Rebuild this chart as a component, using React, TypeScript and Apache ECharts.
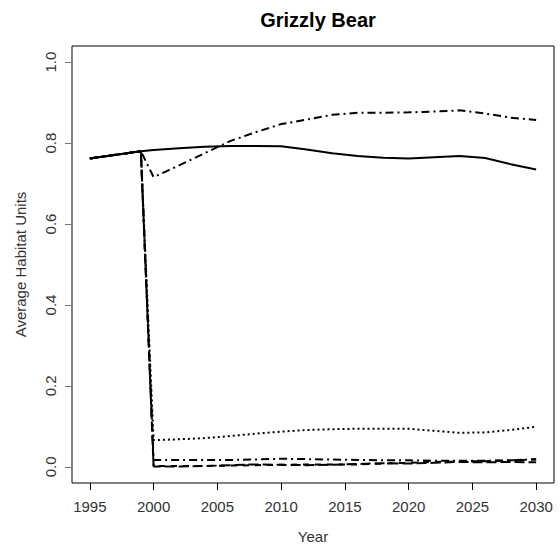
import React, { useEffect, useRef } from "react";
import * as echarts from "echarts";

const years = [1995, 1999, 2000, 2002, 2004, 2006, 2008, 2010, 2012, 2014, 2016, 2018, 2020, 2022, 2024, 2026, 2028, 2030];
const solidVals = [0.762, 0.78, 0.783, 0.787, 0.791, 0.793, 0.793, 0.792, 0.784, 0.775, 0.768, 0.764, 0.762, 0.765, 0.768, 0.763, 0.748, 0.735];
const upperDotDashVals = [0.762, 0.78, 0.716, 0.745, 0.775, 0.805, 0.827, 0.847, 0.858, 0.87, 0.875, 0.875, 0.876, 0.878, 0.881, 0.873, 0.863, 0.857];
const dottedVals = [0.762, 0.78, 0.066, 0.068, 0.071, 0.076, 0.082, 0.087, 0.091, 0.093, 0.094, 0.094, 0.094, 0.089, 0.084, 0.085, 0.091, 0.099];
const lowerDotDashVals = [0.762, 0.78, 0.017, 0.017, 0.017, 0.017, 0.018, 0.02, 0.019, 0.018, 0.017, 0.016, 0.016, 0.015, 0.015, 0.015, 0.016, 0.019];
const dashedVals = [0.762, 0.78, 0.002, 0.002, 0.002, 0.003, 0.004, 0.005, 0.006, 0.006, 0.006, 0.008, 0.01, 0.012, 0.013, 0.014, 0.016, 0.018];
const longDashVals = [0.762, 0.78, 0.001, 0.001, 0.002, 0.004, 0.006, 0.005, 0.004, 0.005, 0.007, 0.009, 0.008, 0.01, 0.012, 0.011, 0.012, 0.011];

const xTicks = [1995, 2000, 2005, 2010, 2015, 2020, 2025, 2030];
const yTicks = [0, 0.2, 0.4, 0.6, 0.8, 1.0];

const FONT = "Liberation Sans, Arial, sans-serif";

function pairs(vals: number[]) {
  return years.map((y, i) => [y, vals[i]]);
}

export default function App() {
  const ref = useRef<HTMLDivElement>(null);
  useEffect(() => {
    if (!ref.current) return;
    const chart = echarts.init(ref.current, null, { renderer: "svg" });
    const mk = (name: string, vals: number[], type: any, z = 2) => ({
      name,
      type: "line",
      data: pairs(vals),
      symbol: "none",
      z,
      lineStyle: { color: "#000", width: 2, type, cap: "butt" },
    });
    chart.setOption({
      animation: false,
      backgroundColor: "#fff",
      title: {
        text: "Grizzly Bear",
        left: 313,
        top: 5,
        textAlign: "center",
        textStyle: { fontFamily: FONT, fontSize: 20, fontWeight: "bold", color: "#000" },
      },
      grid: {
        left: 72,
        top: 46,
        right: 6,
        bottom: 67,
        show: true,
        borderColor: "#000",
        borderWidth: 1,
        containLabel: false,
        outerBoundsMode: "none",
      },
      xAxis: {
        type: "value",
        min: 1993.6,
        max: 2031.4,
        name: "Year",
        nameLocation: "middle",
        nameGap: 46,
        nameTextStyle: { fontFamily: FONT, fontSize: 15, color: "#333" },
        axisLine: { show: false, onZero: false },
        splitLine: { show: false },
        axisTick: { show: true, length: 7, customValues: xTicks, lineStyle: { color: "#000" } },
        axisLabel: {
          customValues: xTicks,
          fontFamily: FONT,
          fontSize: 15,
          color: "#333",
          margin: 16,
          formatter: (v: number) => String(v),
        },
      },
      yAxis: {
        type: "value",
        min: -0.04,
        max: 1.04,
        name: "Average Habitat Units",
        nameLocation: "middle",
        nameGap: 44,
        nameTextStyle: { fontFamily: FONT, fontSize: 15, color: "#333" },
        axisLine: { show: false, onZero: false },
        splitLine: { show: false },
        axisTick: { show: true, length: 7, customValues: yTicks, lineStyle: { color: "#777" } },
        axisLabel: {
          customValues: yTicks,
          rotate: 90,
          fontFamily: FONT,
          fontSize: 15,
          color: "#333",
          margin: 14,
          formatter: (v: number) => v.toFixed(1),
        },
      },
      series: [
        mk("longdash", longDashVals, [10, 4]),
        mk("dashed", dashedVals, [6, 6]),
        mk("lowerDotDash", lowerDotDashVals, [8, 4, 2, 4]),
        mk("dotted", dottedVals, [2, 3]),
        mk("upperDotDash", upperDotDashVals, [8, 4, 2, 4]),
        mk("solid", solidVals, "solid", 3),
      ],
    });
    return () => chart.dispose();
  }, []);
  return (
    <div
      ref={ref}
      style={{ position: "fixed", left: 0, top: 0, width: 560, height: 550, background: "#fff" }}
    />
  );
}
